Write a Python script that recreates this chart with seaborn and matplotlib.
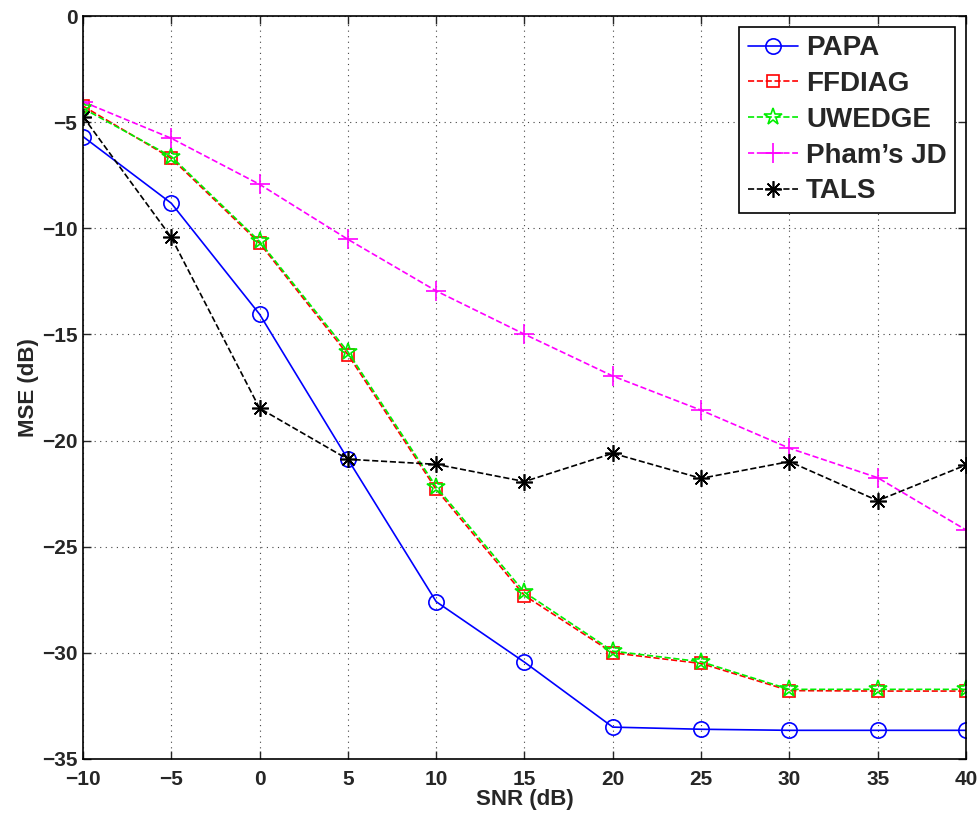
import numpy as np
import pandas as pd
import matplotlib
matplotlib.use("Agg")
import matplotlib.pyplot as plt
import seaborn as sns

# SNR values (dB)
snr = [-10, -5, 0, 5, 10, 15, 20, 25, 30, 35, 40]

# MSE (dB) for each algorithm
papa = [-5.68, -8.82, -14.05, -20.88, -27.59, -30.44, -33.5, -33.6, -33.65, -33.65, -33.65]
ffdiag = [-4.24, -6.7, -10.7, -15.95, -22.3, -27.3, -30.0, -30.5, -31.78, -31.8, -31.8]
uwedge = [-4.35, -6.62, -10.62, -15.82, -22.18, -27.15, -29.92, -30.42, -31.72, -31.72, -31.72]
pham = [-4.04, -5.76, -7.93, -10.52, -12.95, -14.99, -16.96, -18.57, -20.36, -21.75, -24.21]
tals = [-4.74, -10.43, -18.48, -20.88, -21.12, -21.93, -20.6, -21.78, -20.99, -22.83, -21.15]

sns.set_style("ticks")
plt.rcParams['font.family'] = ['Liberation Sans', 'DejaVu Sans']
plt.rcParams['font.weight'] = 'bold'

fig = plt.figure(figsize=(9.79, 8.14), dpi=100)
ax = fig.add_axes([0.0848, 0.0676, 0.9019, 0.9127])

# Plot each method (MATLAB-like open markers)
sns.lineplot(x=snr, y=papa, ax=ax, color='#0000ff', linestyle='-', marker='o',
             markersize=11, markerfacecolor='none', markeredgecolor='#0000ff',
             markeredgewidth=1.2, linewidth=1.2, label='PAPA')
sns.lineplot(x=snr, y=ffdiag, ax=ax, color='#ff0000', linestyle='--', marker='s',
             markersize=9, markerfacecolor='none', markeredgecolor='#ff0000',
             markeredgewidth=1.2, linewidth=1.2, label='FFDIAG')
sns.lineplot(x=snr, y=uwedge, ax=ax, color='#00ee00', linestyle='--', marker='*',
             markersize=13, markerfacecolor='none', markeredgecolor='#00ee00',
             markeredgewidth=1.2, linewidth=1.2, label='UWEDGE')
sns.lineplot(x=snr, y=pham, ax=ax, color='#ff00ff', linestyle='--', marker='+',
             markersize=14, markeredgecolor='#ff00ff',
             markeredgewidth=1.2, linewidth=1.2, label="Pham\u2019s JD")
sns.lineplot(x=snr, y=tals, ax=ax, color='black', linestyle='--', marker=(8, 2, 0),
             markersize=12, markeredgecolor='black',
             markeredgewidth=1.2, linewidth=1.2, label='TALS')

ax.set_xlim(-10, 40)
ax.set_ylim(-35, 0)
ax.set_xticks(np.arange(-10, 41, 5))
ax.set_yticks(np.arange(-35, 1, 5))
ax.grid(True, linestyle=(0, (1, 4)), color='#444444', linewidth=0.8)
ax.tick_params(direction='in', length=6, width=1, labelsize=15, top=True, right=True)
ax.tick_params(axis='x', pad=8)
ax.tick_params(axis='y', pad=4)
for lbl in ax.get_xticklabels() + ax.get_yticklabels():
    lbl.set_fontweight('bold')
for s in ax.spines.values():
    s.set_linewidth(1.2)
    s.set_color('black')

ax.set_xlabel('SNR (dB)', fontsize=16, fontweight='bold', labelpad=0)
ax.set_ylabel('MSE (dB)', fontsize=16, fontweight='bold', labelpad=2)

leg = ax.legend(loc='upper right', fontsize=20, frameon=True, fancybox=False,
                handlelength=1.8, handletextpad=0.3, borderpad=0.3,
                labelspacing=0.35, borderaxespad=0.4)
leg.get_frame().set_edgecolor('black')
leg.get_frame().set_linewidth(1.2)
leg.get_frame().set_alpha(1)
for t in leg.get_texts():
    t.set_fontweight('bold')

fig.savefig('out.png', dpi=100)
